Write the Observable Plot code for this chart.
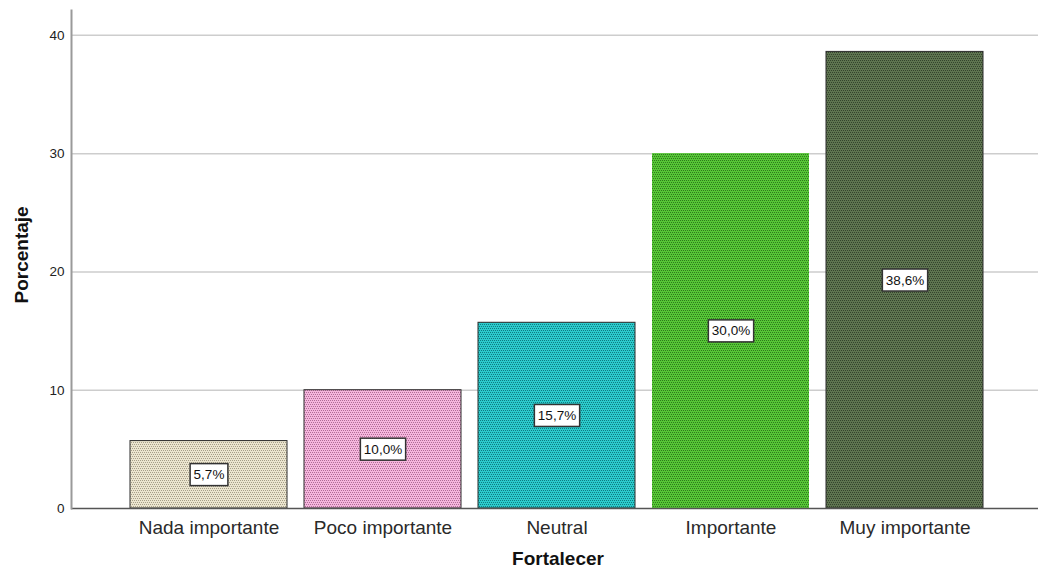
<!DOCTYPE html>
<html>
<head>
<meta charset="utf-8">
<script src="https://cdn.jsdelivr.net/npm/d3@7"></script>
<script src="https://cdn.jsdelivr.net/npm/@observablehq/plot@0.6"></script>
<style>
  html, body { margin: 0; padding: 0; background: #fff; }
</style>
</head>
<body>
<div id="chart"></div>
<script>
const categories = ["Nada importante", "Poco importante", "Neutral", "Importante", "Muy importante"];
const percentages = [5.7, 10.0, 15.7, 30.0, 38.6];
const yTicks = [0, 10, 20, 30, 40];
const xTitle = "Fortalecer";
const yTitle = "Porcentaje";
const lightColors = ["#ebe5cf", "#f5b6dd", "#2ccbcc", "#56c636", "#5e7450"];
const darkColors = ["#a69e88", "#b06c96", "#0f7b80", "#2e7a1c", "#34432c"];
const outlineColors = ["#2b2b2b", "#2b2b2b", "#2b2b2b", "none", "#2b2b2b"];

const data = categories.map((c, i) => ({cat: c, pct: percentages[i]}));
const fmt = v => v.toFixed(1).replace(".", ",") + "%";
const font = "'Liberation Sans', Arial, sans-serif";

const chart = Plot.plot({
  width: 1038,
  height: 575,
  marginLeft: 71,
  marginRight: 0,
  marginTop: 10,
  marginBottom: 67,
  style: {fontFamily: font, background: "#fff", color: "#222"},
  x: {domain: categories, range: [119.25, 993.65], paddingInner: 0.1, paddingOuter: 0.05, label: null},
  y: {domain: [0, 42.1], label: null},
  color: {type: "ordinal", domain: categories, range: categories.map((_, i) => `url(#pat${i})`)},
  marks: [
    Plot.ruleY(yTicks.filter(t => t > 0), {stroke: "#cdcdcd", strokeWidth: 1.5}),
    Plot.barY(data, {x: "cat", y: "pct", fill: "cat", inset: 0}),
    ...data.map((d, i) => Plot.barY([d], {x: "cat", y: "pct", fill: "none", stroke: outlineColors[i], strokeWidth: 1, inset: 0})),
    Plot.ruleY([0], {stroke: "#555", strokeWidth: 1.5}),
    Plot.frame({anchor: "left", stroke: "#9a9a9a", strokeWidth: 2}),
    Plot.text(data, {x: "cat", y: d => d.pct / 2, text: d => fmt(d.pct), fontSize: 13.5, fill: "#111", className: "vlabel"}),
    Plot.axisY({ticks: yTicks, tickSize: 0, tickPadding: 7, fontSize: 13.5, label: null}),
    Plot.axisX({tickSize: 0, tickPadding: 12, fontSize: 19, fill: "#2a2a2a", label: null}),
    Plot.text([xTitle], {frameAnchor: "bottom", dx: 3, dy: 56, fontSize: 19, fontWeight: "bold", fill: "#111"}),
    Plot.text([yTitle], {frameAnchor: "left", dx: -50, dy: 44, rotate: -90, fontSize: 19, fontWeight: "bold", fill: "#111"})
  ]
});

// patterns for the dotted bar fills
const svg = d3.select(chart);
const defs = svg.insert("defs", ":first-child");
lightColors.forEach((lc, i) => {
  const p = defs.append("pattern").attr("id", `pat${i}`).attr("patternUnits", "userSpaceOnUse")
    .attr("width", 4).attr("height", 4);
  p.append("rect").attr("width", 4).attr("height", 4).attr("fill", lc);
  [[0, 0], [2, 0], [1, 2], [3, 2]].forEach(([x, y]) =>
    p.append("rect").attr("x", x).attr("y", y).attr("width", 1).attr("height", 1).attr("fill", darkColors[i]));
});

document.getElementById("chart").append(chart);

// white boxes behind value labels
svg.selectAll("g.vlabel text").each(function() {
  const b = this.getBBox();
  const r = document.createElementNS("http://www.w3.org/2000/svg", "rect");
  r.setAttribute("x", b.x - 3.5);
  r.setAttribute("y", b.y - 3.5);
  r.setAttribute("width", b.width + 7);
  r.setAttribute("height", b.height + 7);
  r.setAttribute("fill", "#fff");
  r.setAttribute("stroke", "#333");
  r.setAttribute("stroke-width", 1.5);
  const tr = this.getAttribute("transform");
  if (tr) r.setAttribute("transform", tr);
  this.parentNode.insertBefore(r, this);
});
</script>
</body>
</html>
